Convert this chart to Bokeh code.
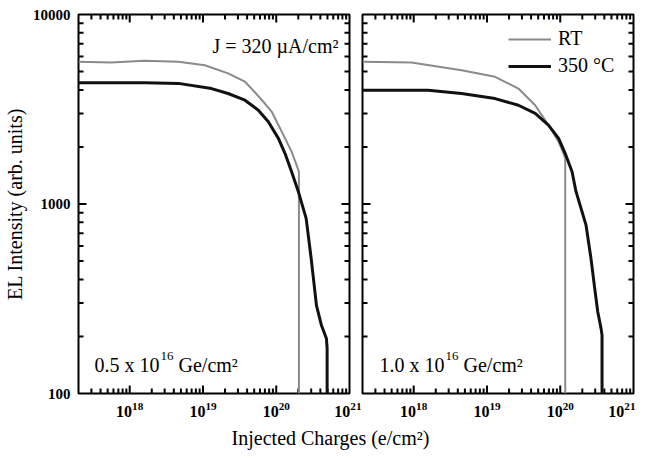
from bokeh.plotting import figure
from bokeh.layouts import row, column
from bokeh.models import Range1d, BasicTickFormatter, Label, Legend, LegendItem
from bokeh.embed import file_html
from bokeh.resources import INLINE

# ---------------- data ----------------
rt_left_x = [2e17, 5.6e17, 1.6e18, 4.6e18, 1.06e19, 2.2e19, 3.74e19, 4.6e19, 7.0e19,
             8.65e19, 1.07e20, 1.32e20, 1.62e20, 1.9e20, 2.04e20, 2.04e20]
rt_left_y = [5630, 5580, 5700, 5630, 5400, 4890, 4420, 4065, 3390,
             3075, 2610, 2220, 1890, 1600, 1480, 100]

ht_left_x = [2e17, 1.6e18, 4.6e18, 1.31e19, 2.2e19, 3.74e19, 5.7e19, 7.8e19, 1.07e20,
             1.32e20, 1.62e20, 2.0e20, 2.56e20, 3.0e20, 3.18e20, 3.54e20, 4.14e20,
             4.84e20, 4.95e20, 4.95e20]
ht_left_y = [4370, 4370, 4330, 4065, 3830, 3530, 3125, 2715, 2220,
             1845, 1480, 1165, 840, 515, 421, 292, 229,
             195, 173, 100]

rt_right_x = [2e17, 9.3e17, 4.5e18, 1.29e19, 2.69e19, 4.55e19, 6.9e19, 9.5e19,
              1.11e20, 1.17e20, 1.17e20]
rt_right_y = [5630, 5580, 5080, 4690, 4065, 3320, 2610, 2130,
              1845, 1740, 100]

ht_right_x = [2e17, 1.57e18, 4.5e18, 1.29e19, 2.69e19, 4.55e19, 6.9e19, 9.5e19,
              1.17e20, 1.45e20, 1.64e20, 2.25e20, 2.63e20, 2.92e20, 3.25e20, 3.61e20,
              3.72e20, 3.72e20]
ht_right_y = [3980, 3980, 3830, 3600, 3320, 3005, 2610, 2220,
              1845, 1480, 1165, 773, 515, 372, 270, 220,
              203, 100]

x_major = [1e18, 1e19, 1e20]
x_minor = [m * 10.0 ** e for e in (17, 18, 19, 20) for m in range(2, 10)][1:]
y_major = [1000]
y_minor = [m * 10.0 ** e for e in (2, 3) for m in range(2, 10)]

X_LO, X_HI = 2e17, 1e21
Y_LO, Y_HI = 100, 10000

SERIF = "Liberation Serif"
GRAY = "#8a8a8a"
BLACK = "#111111"

FRAME_W, FRAME_H = 271, 379
X_DECADES, Y_DECADES = 3.699, 2.0
MAJ_PX, MIN_PX = 8, 5


def style_axis(ax, size):
    ax.axis_line_alpha = 0
    ax.major_tick_in = 0
    ax.major_tick_out = 0
    ax.minor_tick_in = 0
    ax.minor_tick_out = 0
    ax.major_label_text_font = SERIF
    ax.major_label_text_font_style = "bold"
    ax.major_label_text_color = "black"
    ax.major_label_text_font_size = size
    ax.major_label_standoff = 8


def inward_ticks(p):
    kw = dict(line_color="black", line_width=2)
    for vals, px in ((x_major, MAJ_PX), (x_minor, MIN_PX)):
        f = 10 ** (px * Y_DECADES / FRAME_H)
        xs, ys = [], []
        for v in vals:
            xs += [[v, v], [v, v]]
            ys += [[Y_LO, Y_LO * f], [Y_HI, Y_HI / f]]
        p.multi_line(xs, ys, **kw)
    for vals, px in ((y_major, MAJ_PX), (y_minor, MIN_PX)):
        f = 10 ** (px * X_DECADES / FRAME_W)
        xs, ys = [], []
        for v in vals:
            xs += [[X_LO, X_LO * f], [X_HI, X_HI / f]]
            ys += [[v, v], [v, v]]
        p.multi_line(xs, ys, **kw)


def make_panel(left_border, right_border, show_y):
    p = figure(x_axis_type="log", y_axis_type="log",
               x_range=Range1d(X_LO, X_HI), y_range=Range1d(Y_LO, Y_HI),
               frame_width=FRAME_W, frame_height=FRAME_H,
               min_border_left=left_border, min_border_right=right_border,
               min_border_top=14, min_border_bottom=30,
               output_backend="svg", toolbar_location=None)
    p.grid.visible = False
    p.outline_line_color = "black"
    p.outline_line_width = 2
    p.background_fill_color = "white"
    p.yaxis.formatter = BasicTickFormatter(use_scientific=False)
    for ax in p.xaxis:
        style_axis(ax, "16px")
    for ax in p.yaxis:
        style_axis(ax, "15px")
    if not show_y:
        p.yaxis.visible = False
    inward_ticks(p)
    return p


p1 = make_panel(78, 12, True)
p1.yaxis[0].axis_label = "EL Intensity (arb. units)"
p1.yaxis[0].axis_label_text_font = SERIF
p1.yaxis[0].axis_label_text_font_style = "normal"
p1.yaxis[0].axis_label_text_color = "black"
p1.yaxis[0].axis_label_text_font_size = "20px"
p1.yaxis[0].axis_label_standoff = 4

p1.line(rt_left_x, rt_left_y, line_color=GRAY, line_width=2)
p1.line(ht_left_x, ht_left_y, line_color=BLACK, line_width=3)

p2 = make_panel(1, 2, False)
r_rt = p2.line(rt_right_x, rt_right_y, line_color=GRAY, line_width=2)
r_ht = p2.line(ht_right_x, ht_right_y, line_color=BLACK, line_width=3)

legend = Legend(items=[LegendItem(label="RT", renderers=[r_rt]),
                       LegendItem(label="350 °C", renderers=[r_ht])],
                location="top_right")
legend.border_line_alpha = 0
legend.background_fill_alpha = 0
legend.label_text_font = SERIF
legend.label_text_font_size = "20px"
legend.label_text_color = "black"
legend.glyph_width = 43
legend.glyph_height = 22
legend.label_height = 22
legend.label_width = 62
legend.spacing = 4
legend.padding = 5
legend.margin = 8
legend.label_standoff = 7
p2.add_layout(legend)


def lab(p, text, x, y, size="20px", align="left"):
    p.add_layout(Label(x=x, y=y, x_units="screen", y_units="screen", text=text,
                       text_font=SERIF, text_font_size=size, text_align=align,
                       text_baseline="alphabetic", text_color="black"))


lab(p1, "J = 320 µA/cm²", 260, 348, align="right")
lab(p1, "0.5 x 10", 16, 29)
lab(p1, "16", 82, 38, size="13px")
lab(p1, "Ge/cm²", 100, 29)
lab(p2, "1.0 x 10", 17, 29)
lab(p2, "16", 83, 38, size="13px")
lab(p2, "Ge/cm²", 101, 29)

p3 = figure(width=78 + 271 + 12 + 1 + 271 + 2, height=28,
            x_axis_type=None, y_axis_type=None,
            x_range=Range1d(0, 1), y_range=Range1d(0, 1),
            min_border=0, output_backend="svg", toolbar_location=None)
p3.outline_line_color = None
p3.grid.visible = False
p3.add_layout(Label(x=330, y=14, x_units="screen", y_units="screen",
                    text="Injected Charges (e/cm²)", text_font=SERIF,
                    text_font_size="20px", text_align="center",
                    text_baseline="middle", text_color="black"))

layout = column(row(p1, p2, spacing=0), p3, spacing=0)
open("out.html", "w").write(file_html(layout, INLINE))
